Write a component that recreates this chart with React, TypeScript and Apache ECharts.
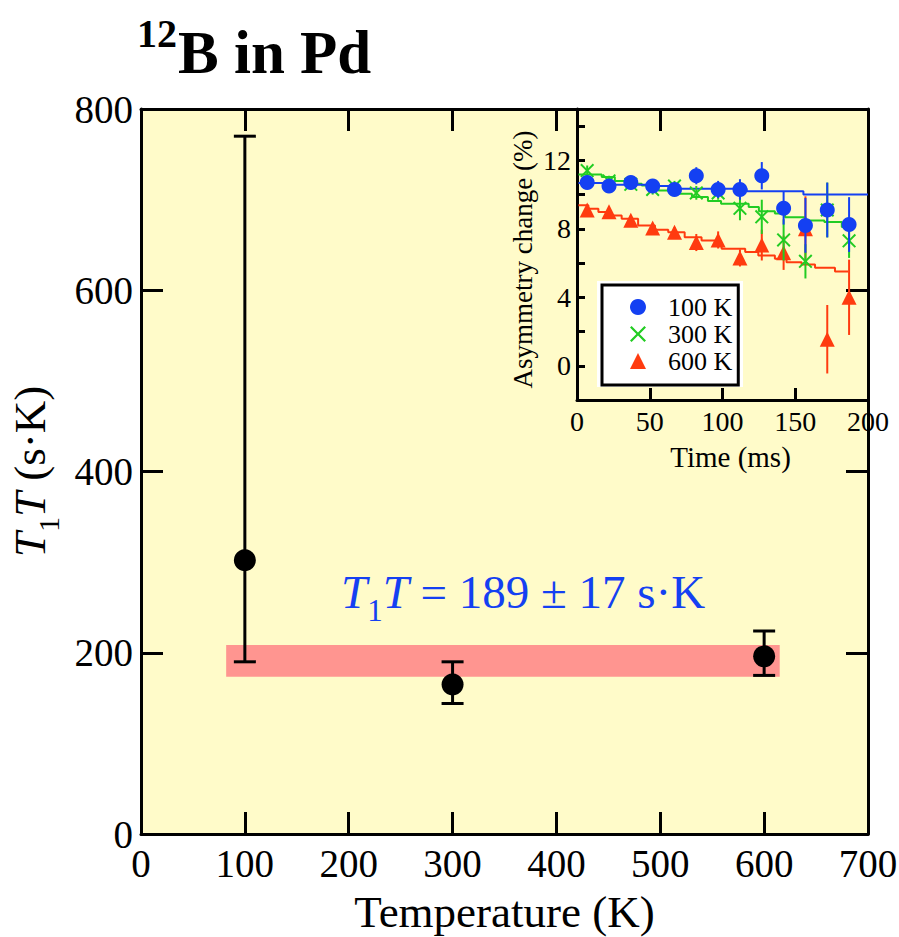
import React, { useEffect, useRef } from 'react';
import * as echarts from 'echarts';

const FONT = '"Liberation Serif", "Times New Roman", serif';

// ---- Main chart data ----
const temperatures = [100, 300, 600];
const t1tValues = [302, 165, 196];
const t1tLower = [190, 144, 175];
const t1tUpper = [770, 190, 224];
const fitBandT = [82, 615];
const fitBandValue = [173.5, 208.5];

// ---- Inset data ----
const times = [7, 22, 37, 52, 67, 82, 97, 112, 127, 142, 157, 172, 187];
const asym100 = [10.7, 10.5, 10.7, 10.5, 10.3, 11.1, 10.3, 10.3, 11.1, 9.2, 8.2, 9.1, 8.25];
const err100 = [0.3, 0.3, 0.3, 0.3, 0.3, 0.5, 0.5, 0.6, 0.8, 0.95, 1.6, 1.6, 1.6];
const asym300 = [11.4, 10.8, 10.6, 10.3, 10.5, 10.1, 10.1, 9.2, 8.7, 7.35, 6.1, 9.1, 7.3];
const err300 = [0.3, 0.3, 0.3, 0.3, 0.3, 0.4, 0.4, 0.7, 1.0, 1.2, 1.0, 1.6, 1.0];
const asym600 = [9.1, 9.0, 8.5, 8.05, 7.8, 7.2, 7.35, 6.3, 7.05, 6.6, 8.0, 1.55, 4.0];
const err600 = [0.3, 0.3, 0.3, 0.3, 0.3, 0.5, 0.5, 0.5, 0.9, 1.0, 1.9, 2.0, 2.2];

// fit step lines [time, value]
const fit100 = [[1, 10.67], [20, 10.58], [50, 10.5], [70, 10.34], [116.6, 10.19], [155.6, 10.0], [200, 10.0]];
const fit300 = [[1, 11.18], [17, 11.03], [26, 10.8], [33, 10.63], [44.5, 10.53], [56, 10.24], [67, 10.05], [79, 9.86], [90, 9.62], [99, 9.46], [118, 9.27], [125, 9.03], [136, 8.9], [143, 8.68], [157, 8.49], [170, 8.4], [182, 8.1], [187, 8.1]];
const fit600 = [[1, 9.37], [7.8, 9.17], [14.7, 8.98], [21.5, 8.78], [30.7, 8.59], [42, 8.2], [53.6, 7.94], [62.7, 7.8], [74, 7.51], [85.6, 7.32], [95, 7.08], [99.4, 6.83], [115.6, 6.64], [124.6, 6.44], [136, 6.25], [144, 6.05], [154.4, 5.91], [163.6, 5.72], [177.3, 5.5], [186.5, 5.5]];

const legendNames = ['100 K', '300 K', '600 K'];

const BLUE = '#1440f2';
const GREEN = '#22cc22';
const RED = '#ff3b0f';
const BG = '#fffbc9';
const BAND = '#ff9590';

const CROSS = 'path://M0,10 L10,0 L50,40 L90,0 L100,10 L60,50 L100,90 L90,100 L50,60 L10,100 L0,90 L40,50 Z';
const TRIANGLE = 'path://M50,0 L100,100 L0,100 Z';

function errData(vals: number[], errs: number[]) {
  return times.map((t, i) => [t, vals[i] - errs[i], vals[i] + errs[i]]);
}

function insetErrSeries(vals: number[], errs: number[], color: string, z: number) {
  return {
    type: 'custom',
    xAxisIndex: 2,
    yAxisIndex: 2,
    z,
    data: errData(vals, errs),
    encode: { x: 0, y: [1, 2] },
    renderItem: (params: any, api: any) => {
      const p1 = api.coord([api.value(0), api.value(1)]);
      const p2 = api.coord([api.value(0), api.value(2)]);
      return {
        type: 'line',
        shape: { x1: p1[0], y1: p1[1], x2: p2[0], y2: p2[1] },
        style: { stroke: color, lineWidth: 2 },
      };
    },
  };
}

function fitSeries(name: string, data: number[][], color: string, z: number) {
  return {
    name,
    type: 'line',
    xAxisIndex: 2,
    yAxisIndex: 2,
    step: 'end',
    showSymbol: false,
    symbol: 'none',
    z,
    data,
    lineStyle: { color, width: 2 },
  };
}

function scatterSeries(name: string, vals: number[], color: string, symbol: string, size: number, z: number) {
  return {
    name,
    type: 'scatter',
    xAxisIndex: 2,
    yAxisIndex: 2,
    symbol,
    symbolSize: size,
    symbolKeepAspect: true,
    z,
    data: times.map((t, i) => [t, vals[i]]),
    itemStyle: { color, opacity: 1 },
  };
}

const axisLineStyle = { color: '#000', width: 3 };
const TICK = 39;
const NAME = 45;
const ITICK = 28;

const option: any = {
  animation: false,
  backgroundColor: '#ffffff',
  textStyle: { fontFamily: FONT },
  grid: [
    { left: 141, top: 109, width: 727, height: 725, show: true, backgroundColor: BG, borderWidth: 0, containLabel: false, outerBoundsMode: 'none' },
    { left: 577, top: 109, width: 291, height: 291, show: false, containLabel: false, outerBoundsMode: 'none' },
  ],
  legend: {
    data: legendNames,
    orient: 'vertical',
    left: 602,
    top: 285,
    padding: [9, 6, 11, 28],
    itemWidth: 16,
    itemHeight: 16,
    itemGap: 1,
    symbolKeepAspect: true,
    backgroundColor: '#ffffff',
    borderColor: '#000',
    borderWidth: 3,
    borderRadius: 0,
    selectedMode: false,
    textStyle: { fontFamily: FONT, fontSize: 26, color: '#000', lineHeight: 25, padding: [0, 0, 0, 17] },
  },
  xAxis: [
    {
      gridIndex: 0, type: 'value', min: 0, max: 700, interval: 100, position: 'bottom',
      axisLine: { show: true, onZero: false, lineStyle: axisLineStyle },
      axisTick: { show: true, inside: true, length: 22, lineStyle: { color: '#000', width: 3 } },
      splitLine: { show: false },
      axisLabel: { fontSize: TICK, fontFamily: FONT, color: '#000', margin: 10 },
      name: 'Temperature (K)', nameLocation: 'middle', nameGap: 55,
      nameTextStyle: { fontSize: NAME, fontFamily: FONT, color: '#000' },
    },
    {
      gridIndex: 0, type: 'value', min: 0, max: 700, interval: 100, position: 'top',
      axisLine: { show: true, onZero: false, lineStyle: axisLineStyle },
      axisTick: { show: true, inside: true, length: 22, lineStyle: { color: '#000', width: 3 } },
      splitLine: { show: false },
      axisLabel: { show: false },
    },
    {
      gridIndex: 1, type: 'value', min: 0, max: 200, interval: 50, position: 'bottom',
      axisLine: { show: true, onZero: false, lineStyle: axisLineStyle },
      axisTick: { show: true, inside: true, length: 12, lineStyle: { color: '#000', width: 3 } },
      splitLine: { show: false },
      axisLabel: { fontSize: ITICK, fontFamily: FONT, color: '#000', margin: 7 },
      name: 'Time (ms)', nameLocation: 'middle', nameGap: 42,
      nameTextStyle: { fontSize: 29, fontFamily: FONT, color: '#000', padding: [0, 0, 0, 16] },
    },
  ],
  yAxis: [
    {
      gridIndex: 0, type: 'value', min: 0, max: 800, interval: 200, position: 'left',
      axisLine: { show: true, onZero: false, lineStyle: axisLineStyle },
      axisTick: { show: true, inside: true, length: 22, lineStyle: { color: '#000', width: 3 } },
      splitLine: { show: false },
      axisLabel: { fontSize: TICK, fontFamily: FONT, color: '#000', margin: 8 },
      name: '{i|T}{s|1}{i|T}{n| (s·K)}', nameLocation: 'middle', nameGap: 64,
      nameTextStyle: {
        fontSize: NAME, fontFamily: FONT, color: '#000', lineHeight: 68,
        rich: {
          i: { fontSize: NAME, fontFamily: FONT, fontStyle: 'italic', color: '#000', lineHeight: 68 },
          s: { fontSize: 30, fontFamily: FONT, color: '#000', verticalAlign: 'bottom', lineHeight: 68 },
          n: { fontSize: NAME, fontFamily: FONT, color: '#000', lineHeight: 68 },
        },
      },
    },
    {
      gridIndex: 0, type: 'value', min: 0, max: 800, interval: 200, position: 'right',
      axisLine: { show: true, onZero: false, lineStyle: axisLineStyle },
      axisTick: { show: true, inside: true, length: 22, lineStyle: { color: '#000', width: 3 } },
      splitLine: { show: false },
      axisLabel: { show: false },
    },
    {
      gridIndex: 1, type: 'value', min: -2, max: 15, interval: 2, position: 'left',
      axisLine: { show: true, onZero: false, lineStyle: axisLineStyle },
      axisTick: { show: true, inside: true, length: 8, lineStyle: { color: '#000', width: 3 } },
      splitLine: { show: false },
      axisLabel: {
        fontSize: ITICK, fontFamily: FONT, color: '#000', margin: 6,
        formatter: (v: number) => (v >= 0 && v % 4 === 0 ? String(v) : ''),
      },
      name: 'Asymmetry change (%)', nameLocation: 'middle', nameGap: 41,
      nameTextStyle: { fontSize: 27, fontFamily: FONT, color: '#000', padding: [0, 10, 0, 0] },
    },
  ],
  graphic: [
    {
      type: 'text', left: 137, top: 13, z: 10,
      style: { text: '12', fontSize: 40, fontWeight: 'bold', fontFamily: FONT, fill: '#000' },
    },
    {
      type: 'text', left: 178, top: 22, z: 10,
      style: { text: 'B in Pd', fontSize: 61, fontWeight: 'bold', fontFamily: FONT, fill: '#000' },
    },
    {
      type: 'text', left: 341, top: 558, z: 10,
      style: {
        text: '{i|T}{s|1}{i|T}{n| = 189 ± 17 s·K}',
        fontSize: 47, fontFamily: FONT, fill: BLUE, lineHeight: 68,
        rich: {
          i: { fontSize: 47, fontFamily: FONT, fontStyle: 'italic', fill: BLUE, color: BLUE, lineHeight: 68 },
          s: { fontSize: 31, fontFamily: FONT, fill: BLUE, color: BLUE, verticalAlign: 'bottom', lineHeight: 68 },
          n: { fontSize: 47, fontFamily: FONT, fill: BLUE, color: BLUE, lineHeight: 68 },
        },
      },
    },
    {
      type: 'rect', left: 597, top: 281, z: 3,
      shape: { width: 146, height: 106 },
      style: { fill: '#ffffff' },
    },
  ],
  series: [
    // fit band
    {
      type: 'custom', xAxisIndex: 0, yAxisIndex: 0, z: 1,
      data: [[fitBandT[0], fitBandT[1], fitBandValue[0], fitBandValue[1]]],
      encode: { x: [0, 1], y: [2, 3] },
      renderItem: (params: any, api: any) => {
        const p1 = api.coord([api.value(0), api.value(3)]);
        const p2 = api.coord([api.value(1), api.value(2)]);
        return {
          type: 'rect',
          shape: { x: p1[0], y: p1[1], width: p2[0] - p1[0], height: p2[1] - p1[1] },
          style: { fill: BAND },
        };
      },
    },
    // main error bars
    {
      type: 'custom', xAxisIndex: 0, yAxisIndex: 0, z: 3,
      data: temperatures.map((t, i) => [t, t1tLower[i], t1tUpper[i]]),
      encode: { x: 0, y: [1, 2] },
      renderItem: (params: any, api: any) => {
        const x = api.value(0);
        const p1 = api.coord([x, api.value(1)]);
        const p2 = api.coord([x, api.value(2)]);
        const hw = 11;
        const st = { stroke: '#000', lineWidth: 3 };
        return {
          type: 'group',
          children: [
            { type: 'line', shape: { x1: p1[0], y1: p1[1], x2: p2[0], y2: p2[1] }, style: st },
            { type: 'line', shape: { x1: p1[0] - hw, y1: p1[1], x2: p1[0] + hw, y2: p1[1] }, style: st },
            { type: 'line', shape: { x1: p2[0] - hw, y1: p2[1], x2: p2[0] + hw, y2: p2[1] }, style: st },
          ],
        };
      },
    },
    // main points
    {
      name: 'T1T', type: 'scatter', xAxisIndex: 0, yAxisIndex: 0, z: 4,
      symbol: 'circle', symbolSize: 22,
      data: temperatures.map((t, i) => [t, t1tValues[i]]),
      itemStyle: { color: '#000', opacity: 1 },
    },
    // inset fits
    fitSeries('fit600', fit600, RED, 2),
    fitSeries('fit300', fit300, GREEN, 2),
    fitSeries('fit100', fit100, BLUE, 2),
    // inset data
    insetErrSeries(asym600, err600, RED, 3),
    scatterSeries('600 K', asym600, RED, TRIANGLE, 15, 4),
    insetErrSeries(asym300, err300, GREEN, 5),
    scatterSeries('300 K', asym300, GREEN, CROSS, 14, 6),
    insetErrSeries(asym100, err100, BLUE, 7),
    scatterSeries('100 K', asym100, BLUE, 'circle', 15, 8),
  ],
};

export default function App() {
  const ref = useRef<HTMLDivElement>(null);
  useEffect(() => {
    if (!ref.current) return;
    const chart = echarts.init(ref.current, null, { renderer: 'svg' });
    chart.setOption(option);
    return () => chart.dispose();
  }, []);
  return (
    <div
      ref={ref}
      style={{ position: 'fixed', left: 0, top: 0, width: 899, height: 937 }}
    />
  );
}
